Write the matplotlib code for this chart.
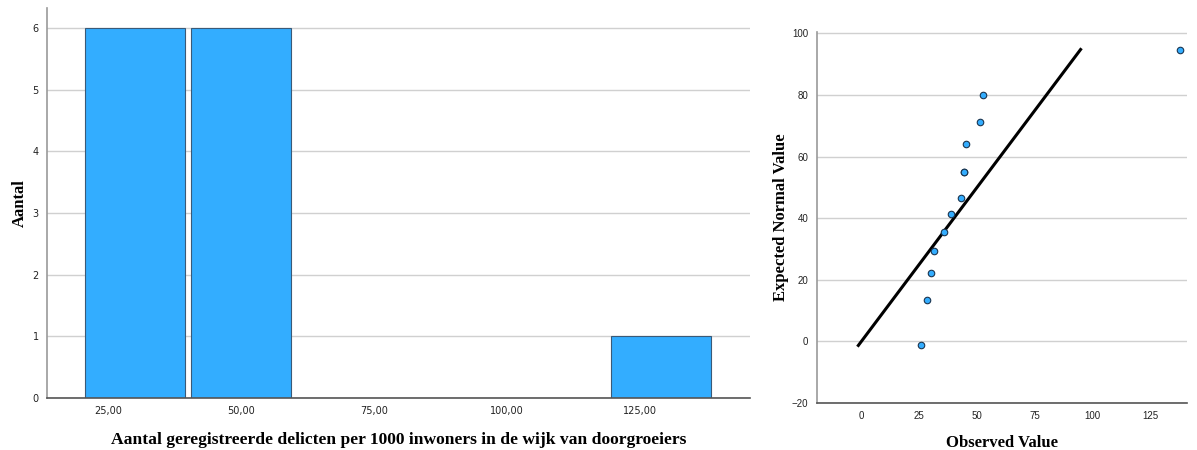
import matplotlib
matplotlib.use('Agg')

import matplotlib.pyplot as plt

# Histogram: bin centres and counts
bin_centers = [30, 50, 129]
bin_counts = [6, 6, 1]
bin_width = 18.8
hist_xticks = [25, 50, 75, 100, 125]
hist_xticklabels = ["25,00", "50,00", "75,00", "100,00", "125,00"]

# Normal Q-Q plot: observed vs expected normal value
observed = [25.8, 28.2, 30.0, 31.3, 35.8, 38.6, 43.0, 44.2, 44.2, 45.3, 51.3, 52.6, 137.6]
expected = [-1.3, 13.3, 22.3, 29.4, 35.6, 41.3, 46.7, 55.0, 55.0, 64.1, 71.2, 80.1, 94.8]
ref_line = [-1.3, 94.8]

BAR_COLOR = "#33adff"
EDGE_COLOR = "#3a5a78"
GRID_COLOR = "#d0d0d0"
SPINE_COLOR = "#555555"

def style_axes(ax):
    for side in ("top", "right"):
        ax.spines[side].set_visible(False)
    ax.spines["left"].set_color("#999999")
    ax.spines["bottom"].set_color(SPINE_COLOR)
    ax.spines["left"].set_linewidth(1.2)
    ax.spines["bottom"].set_linewidth(1.2)
    ax.tick_params(length=0, labelsize=7, pad=6, colors="#222222")
    ax.set_axisbelow(True)
    ax.yaxis.grid(True, color=GRID_COLOR, linewidth=1.0)

def main():
    fig = plt.figure(figsize=(11.97, 4.5), dpi=100)

    # Left: histogram
    ax1 = fig.add_axes([0.0393, 0.1156, 0.5873, 0.8664])
    ax1.bar(bin_centers, bin_counts, width=bin_width, color=BAR_COLOR,
            edgecolor=EDGE_COLOR, linewidth=0.8)
    ax1.set_xlim(13.5, 145.7)
    ax1.set_ylim(0, 6.32)
    ax1.set_yticks(range(0, 7))
    ax1.set_xticks(hist_xticks)
    ax1.set_xticklabels(hist_xticklabels)
    style_axes(ax1)
    ax1.set_xlabel("Aantal geregistreerde delicten per 1000 inwoners in de wijk van doorgroeiers",
                   fontfamily="Liberation Serif", fontweight="bold", fontsize=12.6, labelpad=11)
    ax1.set_ylabel("Aantal", fontfamily="Liberation Serif", fontweight="bold",
                   fontsize=12, labelpad=3)

    # Right: normal Q-Q plot
    ax2 = fig.add_axes([0.6823, 0.1044, 0.3093, 0.8246])
    ax2.plot(ref_line, ref_line, color="black", linewidth=2.2, zorder=2)
    ax2.scatter(observed, expected, s=22, color=BAR_COLOR, edgecolors="#1a3550",
                linewidths=0.8, zorder=3)
    ax2.set_xlim(-19.3, 140.8)
    ax2.set_ylim(-20, 100.5)
    ax2.set_xticks([0, 25, 50, 75, 100, 125])
    ax2.set_yticks([-20, 0, 20, 40, 60, 80, 100])
    style_axes(ax2)
    for lbl in ax2.get_xticklabels() + ax2.get_yticklabels():
        lbl.set_fontfamily("Liberation Sans")
    ax2.set_xlabel("Observed Value", fontfamily="Liberation Serif", fontweight="bold",
                   fontsize=12, labelpad=10)
    ax2.set_ylabel("Expected Normal Value", fontfamily="Liberation Serif",
                   fontweight="bold", fontsize=12, labelpad=2)

    fig.savefig("out.png", dpi=100)

if __name__ == "__main__":
    main()
